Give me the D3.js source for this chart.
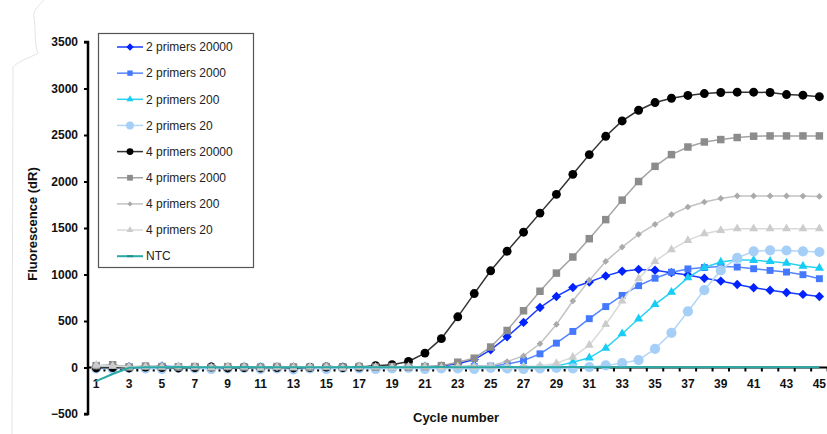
<!DOCTYPE html>
<html>
<head>
<meta charset="utf-8">
<script src="https://cdn.jsdelivr.net/npm/d3@7/dist/d3.min.js"></script>
<style>
  html, body { margin: 0; padding: 0; background: #fff; }
  svg { display: block; font-family: "Liberation Sans", Arial, sans-serif; }
</style>
</head>
<body>
<svg id="chart" width="827" height="434"></svg>
<script>
// ---------- DATA ----------
const cycles = d3.range(1, 46);
const xTickLabels = d3.range(1, 46, 2);
const yTicks = [-500, 0, 500, 1000, 1500, 2000, 2500, 3000, 3500];

const seriesNames = ["2 primers 20000", "2 primers 2000", "2 primers 200", "2 primers 20",
  "4 primers 20000", "4 primers 2000", "4 primers 200", "4 primers 20", "NTC"];

const p2_20000 = [5,-5,10,0,15,5,0,10,5,-5,0,5,-5,0,10,5,0,15,5,10,5,15,40,85,190,330,485,645,764,860,920,985,1035,1055,1045,1020,995,960,929,893,858,830,807,786,764];
const p2_2000  = [10,0,5,-5,5,10,0,5,-5,0,5,-5,0,5,0,10,5,0,5,0,10,5,5,10,15,35,75,147,262,388,525,655,775,880,960,1025,1060,1075,1085,1080,1062,1044,1026,998,955];
const p2_200   = [5,10,0,5,10,0,-5,5,0,10,5,0,5,-5,5,0,5,10,0,5,10,0,5,15,5,0,10,5,15,57,104,208,363,524,678,810,966,1075,1134,1159,1152,1141,1123,1091,1069];
const p2_20    = [-10,-15,-5,-10,-15,-5,-10,-15,-10,-5,-15,-10,-20,-10,-15,-5,-10,-15,-10,-5,-15,-10,-10,-15,-5,-10,-15,-10,-5,-10,5,22,47,80,201,373,603,833,1044,1179,1249,1260,1258,1249,1242];
const p4_20000 = [-5,0,-5,5,0,-5,0,5,-5,0,-5,0,-5,0,5,0,5,20,30,65,155,310,545,795,1040,1250,1455,1660,1862,2077,2289,2486,2651,2766,2849,2895,2925,2946,2957,2960,2960,2957,2935,2928,2912];
const p4_2000  = [20,30,5,15,10,5,10,0,10,5,0,10,5,0,10,5,10,5,10,5,10,20,57,100,220,398,610,820,1015,1188,1385,1590,1800,2000,2163,2289,2371,2425,2451,2473,2487,2490,2490,2490,2490];
const p4_200   = [15,20,10,5,10,0,10,5,0,10,5,-5,5,0,10,5,0,10,5,0,10,5,10,15,20,64,125,255,463,715,937,1141,1295,1432,1539,1644,1726,1780,1818,1845,1845,1845,1845,1843,1840];
const p4_20    = [25,15,5,10,5,15,5,0,10,5,-5,5,0,10,5,-5,10,5,0,10,5,0,10,5,10,5,10,15,45,111,240,463,715,955,1141,1267,1367,1439,1475,1493,1493,1493,1493,1493,1493];
const ntc      = [-147,-70,-3,4,3,5,2,4,3,5,2,3,4,2,4,3,5,3,2,4,3,5,4,3,4,5,3,4,3,5,4,3,4,5,3,4,4,3,5,4,3,4,5,4,4];

const seriesValues = [p2_20000, p2_2000, p2_200, p2_20, p4_20000, p4_2000, p4_200, p4_20, ntc];

// ---------- STYLES ----------
const styles = [
  { line: "#1a3cff", fill: "#0022ff", shape: "diamond", size: 44 },
  { line: "#5585ff", fill: "#4478ff", shape: "square", size: 48 },
  { line: "#2ad2f2", fill: "#18cdf5", shape: "triangle", size: 36 },
  { line: "#b3d6f8", fill: "#a6cff8", shape: "circle", size: 82 },
  { line: "#333333", fill: "#000000", shape: "circle", size: 62 },
  { line: "#a3a3a3", fill: "#8c8c8c", shape: "square", size: 56 },
  { line: "#c2c2c2", fill: "#aaaaaa", shape: "diamond", size: 22 },
  { line: "#d9d9d9", fill: "#cccccc", shape: "triangle", size: 34 },
  { line: "#2aa9a6", fill: "#1f8f8c", shape: "dash", size: 0 }
];

const svg = d3.select("#chart");

// faint scan edge decoration
svg.append("path")
  .attr("d", "M44,0 C38,6 32,12 34,18 C36,30 34,44 38,53 C30,58 20,60 13,67 L12,434")
  .attr("fill", "none").attr("stroke", "#e4e4e4").attr("stroke-width", 1);

const x = d3.scaleLinear().domain([0.5, 45.5]).range([88, 827.6]);
const y = d3.scaleLinear().domain([-500, 3500]).range([414, 42]);

function symPath(shape, size) {
  if (shape === "circle") return d3.symbol(d3.symbolCircle, size)();
  if (shape === "square" || shape === "diamond") return d3.symbol(d3.symbolSquare, size)();
  if (shape === "triangle") return d3.symbol(d3.symbolTriangle, size)();
  return "M-3,0L3,0";
}

// ---------- AXES ----------
const xAxisG = svg.append("g").attr("transform", `translate(0,${y(0)})`);
xAxisG.append("line").attr("x1", x(0.5)).attr("x2", 827).attr("y1", 0).attr("y2", 0)
  .attr("stroke", "#000").attr("stroke-width", 2);
xAxisG.selectAll("line.tk").data(d3.range(0.5, 46, 1)).join("line").attr("class", "tk")
  .attr("x1", d => x(d)).attr("x2", d => x(d)).attr("y1", 0).attr("y2", 4)
  .attr("stroke", "#000").attr("stroke-width", 2);

const yAxis = d3.axisLeft(y).tickValues(yTicks).tickSize(4).tickPadding(6).tickFormat(d3.format("d"));
const yG = svg.append("g").attr("transform", `translate(${x(0.5)},0)`).call(yAxis);
yG.select(".domain").attr("stroke", "#000").attr("stroke-width", 2.5).attr("d", `M-4,${y(3500)}H0V${y(-500)}H-4`);
yG.selectAll(".tick line").attr("stroke", "#000").attr("stroke-width", 2);
yG.selectAll(".tick text").attr("font-size", 12).attr("font-weight", "bold").attr("fill", "#111")
  .attr("font-family", "'Liberation Sans', Arial, sans-serif");

svg.append("g").selectAll("text").data(xTickLabels).join("text")
  .attr("x", d => x(d)).attr("y", 388)
  .attr("text-anchor", "middle").attr("font-size", 12).attr("font-weight", "bold").attr("fill", "#111")
  .text(d => d);

svg.append("text").attr("transform", "translate(37,224) rotate(-90)")
  .attr("text-anchor", "middle").attr("font-size", 13).attr("font-weight", "bold").attr("fill", "#111")
  .text("Fluorescence (dR)");
svg.append("text").attr("x", 456).attr("y", 422)
  .attr("text-anchor", "middle").attr("font-size", 13).attr("font-weight", "bold").attr("fill", "#111")
  .text("Cycle number");

// ---------- SERIES ----------
const lineGen = d3.line().x((d, i) => x(cycles[i])).y(d => y(d));
const plot = svg.append("g");
seriesValues.forEach((vals, si) => {
  const st = styles[si];
  const g = plot.append("g");
  g.append("path").attr("d", lineGen(vals)).attr("fill", "none")
    .attr("stroke", st.line).attr("stroke-width", si === 8 ? 2 : 1.5);
  if (st.shape !== "dash") {
    g.selectAll("path.m").data(vals).join("path").attr("class", "m")
      .attr("d", symPath(st.shape, st.size))
      .attr("transform", (d, i) => `translate(${x(cycles[i])},${y(d)})` + (st.shape === "diamond" ? " rotate(45)" : ""))
      .attr("fill", st.fill).attr("stroke", "none");
  }
});

// ---------- LEGEND ----------
const leg = svg.append("g");
leg.append("rect").attr("x", 98.5).attr("y", 33.5).attr("width", 155).attr("height", 234)
  .attr("fill", "#fff").attr("stroke", "#555").attr("stroke-width", 1.2);
seriesNames.forEach((name, i) => {
  const st = styles[i];
  const ly = 47 + i * 26.15;
  leg.append("line").attr("x1", 117).attr("x2", 143).attr("y1", ly).attr("y2", ly)
    .attr("stroke", st.line).attr("stroke-width", i === 8 ? 2 : 1.5);
  if (st.shape !== "dash") {
    leg.append("path").attr("d", symPath(st.shape, st.size * 0.6))
      .attr("transform", `translate(130,${ly})` + (st.shape === "diamond" ? " rotate(45)" : ""))
      .attr("fill", st.fill);
  } else {
    leg.append("line").attr("x1", 127).attr("x2", 133).attr("y1", ly).attr("y2", ly)
      .attr("stroke", st.fill).attr("stroke-width", 2);
  }
  leg.append("text").attr("x", 146).attr("y", ly + 4.2)
    .attr("font-size", 12).attr("fill", "#222").text(name);
});
</script>
</body>
</html>
